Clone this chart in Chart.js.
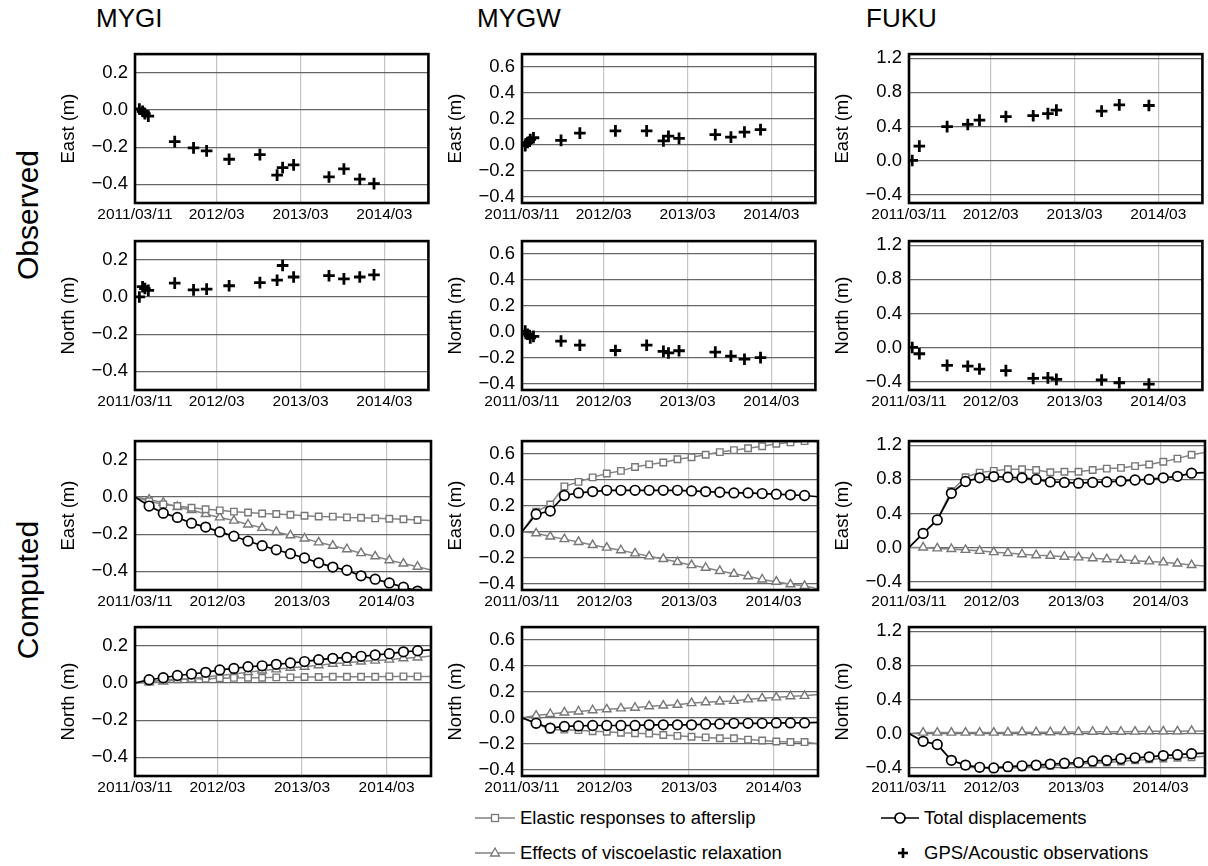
<!DOCTYPE html>
<html lang="en">
<head>
  <meta charset="UTF-8">
  <title>Observed and computed postseismic displacements</title>
  <script src="https://cdn.jsdelivr.net/npm/chart.js"></script>
  <style>
    body {
      margin: 0;
      background: #fff;
      width: 1208px;
      height: 866px;
      overflow: hidden;
      position: relative;
      font-family: "Liberation Sans", Arial, sans-serif;
      color: #000;
    }
    canvas.panel { position: absolute; }
    .station { position: absolute; top: 3px; font-size: 26px; }
    .group {
      position: absolute;
      width: 200px;
      height: 36px;
      line-height: 36px;
      text-align: center;
      font-size: 30px;
      transform: rotate(-90deg);
    }
    .legend-item {
      position: absolute;
      height: 24px;
      display: flex;
      align-items: center;
      font-size: 18.5px;
      white-space: nowrap;
    }
    .legend-item svg { margin-right: 4px; }
  </style>
</head>
<body>
  <div class="station" style="left:96px">MYGI</div>
  <div class="station" style="left:477px">MYGW</div>
  <div class="station" style="left:866px">FUKU</div>

  <div class="group" style="left:-72px; top:197px">Observed</div>
  <div class="group" style="left:-72px; top:572px">Computed</div>

  <!-- legend -->
  <div class="legend-item" style="left:474px; top:806px">
    <svg width="42" height="24"><line x1="1" y1="12" x2="41" y2="12" stroke="#808080" stroke-width="1.5"/><rect x="17.5" y="8.5" width="7" height="7" fill="#fff" stroke="#777" stroke-width="1.3"/></svg>
    Elastic responses to afterslip
  </div>
  <div class="legend-item" style="left:474px; top:841px">
    <svg width="42" height="24"><line x1="1" y1="12" x2="41" y2="12" stroke="#808080" stroke-width="1.5"/><polygon points="21,7 25.5,15 16.5,15" fill="#fff" stroke="#777" stroke-width="1.3"/></svg>
    Effects of viscoelastic relaxation
  </div>
  <div class="legend-item" style="left:880px; top:806px">
    <svg width="40" height="24"><line x1="1" y1="12" x2="39" y2="12" stroke="#000" stroke-width="1.6"/><circle cx="20" cy="12" r="5" fill="#fff" stroke="#000" stroke-width="1.7"/></svg>
    Total displacements
  </div>
  <div class="legend-item" style="left:880px; top:841px">
    <svg width="40" height="24"><line x1="18" y1="12" x2="28" y2="12" stroke="#000" stroke-width="2.6"/><line x1="23" y1="7" x2="23" y2="17" stroke="#000" stroke-width="2.6"/></svg>
    GPS/Acoustic observations
  </div>

  <script>
    // time axis: days since 2011/03/11
    const xMax = 1278;
    const xTickDays = [0, 356, 721, 1086];
    const xTickLabels = ['2011/03/11', '2012/03', '2013/03', '2014/03'];

    // y ranges and ticks per station
    const yRangeMYGI = [-0.5, 0.3];
    const yRangeMYGW = [-0.45, 0.7];
    const yRangeFUKU = [-0.5, 1.25];
    const yTicksMYGI = [-0.4, -0.2, 0.0, 0.2];
    const yTicksMYGW = [-0.4, -0.2, 0.0, 0.2, 0.4, 0.6];
    const yTicksFUKU = [-0.4, 0.0, 0.4, 0.8, 1.2];

    // ---- observations (GPS/Acoustic), in m ----
    const obsDaysMYGI = [19, 33, 43, 58, 173, 255, 312, 410, 544, 619, 643, 691, 845, 910, 979, 1041];
    const obsEastMYGI = [0.005, -0.007, -0.02, -0.033, -0.17, -0.204, -0.22, -0.265, -0.24, -0.35, -0.31, -0.295, -0.36, -0.317, -0.372, -0.396];
    const obsNorthMYGI = [0.0, 0.055, 0.045, 0.035, 0.074, 0.038, 0.042, 0.06, 0.077, 0.09, 0.169, 0.107, 0.114, 0.097, 0.107, 0.119];

    const obsDaysMYGW = [14, 24, 36, 50, 170, 252, 407, 543, 616, 638, 684, 842, 910, 969, 1039];
    const obsEastMYGW = [-0.007, 0.017, 0.041, 0.054, 0.034, 0.09, 0.107, 0.107, 0.03, 0.066, 0.049, 0.078, 0.059, 0.098, 0.117];
    const obsNorthMYGW = [0.005, -0.019, -0.048, -0.036, -0.072, -0.104, -0.145, -0.104, -0.152, -0.164, -0.147, -0.157, -0.188, -0.212, -0.2];

    const obsDaysFUKU = [14, 45, 166, 256, 307, 422, 541, 605, 642, 839, 916, 1045];
    const obsEastFUKU = [0.0, 0.168, 0.398, 0.423, 0.474, 0.515, 0.526, 0.55, 0.591, 0.58, 0.653, 0.646];
    const obsNorthFUKU = [0.0, -0.074, -0.21, -0.22, -0.254, -0.272, -0.364, -0.357, -0.375, -0.382, -0.415, -0.43];

    // ---- computed series, sampled every ~2 months ----
    const compDays = [0, 61, 122, 183, 244, 305, 366, 427, 488, 549, 610, 671, 732, 793, 854, 915, 976, 1037, 1098, 1159, 1220, 1278];

    const totEastMYGI = [0, -0.049, -0.087, -0.11, -0.141, -0.162, -0.188, -0.211, -0.237, -0.262, -0.284, -0.305, -0.328, -0.354, -0.377, -0.394, -0.424, -0.442, -0.462, -0.485, -0.506, -0.53];
    const elaEastMYGI = [0, -0.023, -0.04, -0.049, -0.058, -0.066, -0.072, -0.079, -0.084, -0.089, -0.092, -0.096, -0.101, -0.105, -0.106, -0.11, -0.112, -0.115, -0.117, -0.12, -0.124, -0.127];
    const visEastMYGI = [0, -0.014, -0.031, -0.054, -0.07, -0.092, -0.11, -0.127, -0.148, -0.166, -0.188, -0.206, -0.223, -0.244, -0.262, -0.281, -0.302, -0.319, -0.34, -0.358, -0.375, -0.393];

    const totNorthMYGI = [0, 0.017, 0.028, 0.04, 0.048, 0.057, 0.07, 0.078, 0.087, 0.092, 0.1, 0.107, 0.115, 0.125, 0.132, 0.137, 0.143, 0.15, 0.157, 0.167, 0.173, 0.178];
    const elaNorthMYGI = [0, 0.007, 0.017, 0.02, 0.023, 0.023, 0.025, 0.027, 0.028, 0.028, 0.03, 0.03, 0.032, 0.032, 0.033, 0.033, 0.033, 0.033, 0.035, 0.035, 0.035, 0.035];
    const visNorthMYGI = [0, 0.003, 0.007, 0.017, 0.023, 0.033, 0.04, 0.048, 0.057, 0.067, 0.073, 0.082, 0.087, 0.095, 0.103, 0.108, 0.115, 0.12, 0.125, 0.133, 0.137, 0.145];

    const totEastMYGW = [0, 0.135, 0.16, 0.28, 0.30, 0.31, 0.32, 0.32, 0.32, 0.32, 0.32, 0.32, 0.315, 0.31, 0.305, 0.30, 0.30, 0.295, 0.29, 0.285, 0.28, 0.27];
    const elaEastMYGW = [0, 0.155, 0.21, 0.35, 0.385, 0.42, 0.45, 0.47, 0.50, 0.52, 0.535, 0.56, 0.575, 0.595, 0.615, 0.63, 0.645, 0.66, 0.68, 0.69, 0.70, 0.72];
    const visEastMYGW = [0, -0.012, -0.037, -0.057, -0.079, -0.103, -0.123, -0.143, -0.167, -0.19, -0.21, -0.234, -0.258, -0.278, -0.303, -0.325, -0.344, -0.369, -0.386, -0.406, -0.418, -0.443];

    const totNorthMYGW = [0, -0.043, -0.08, -0.067, -0.063, -0.06, -0.06, -0.06, -0.06, -0.055, -0.055, -0.055, -0.055, -0.05, -0.048, -0.043, -0.043, -0.043, -0.04, -0.04, -0.04, -0.036];
    const elaNorthMYGW = [0, -0.043, -0.092, -0.092, -0.096, -0.104, -0.108, -0.116, -0.12, -0.123, -0.133, -0.14, -0.147, -0.152, -0.159, -0.159, -0.169, -0.176, -0.183, -0.188, -0.188, -0.2];
    const visNorthMYGW = [0, 0.017, 0.029, 0.041, 0.048, 0.058, 0.065, 0.072, 0.077, 0.089, 0.094, 0.10, 0.113, 0.12, 0.125, 0.13, 0.142, 0.15, 0.157, 0.166, 0.169, 0.18];

    const totEastFUKU = [0, 0.164, 0.324, 0.636, 0.775, 0.818, 0.833, 0.825, 0.818, 0.80, 0.77, 0.764, 0.756, 0.764, 0.77, 0.78, 0.793, 0.80, 0.818, 0.836, 0.873, 0.88];
    const elaEastFUKU = [0, 0.17, 0.327, 0.665, 0.825, 0.88, 0.90, 0.92, 0.92, 0.91, 0.884, 0.89, 0.89, 0.91, 0.927, 0.935, 0.956, 0.975, 1.007, 1.044, 1.09, 1.116];
    const visEastFUKU = [0, 0.0, -0.011, -0.018, -0.029, -0.04, -0.055, -0.065, -0.08, -0.091, -0.098, -0.109, -0.116, -0.127, -0.138, -0.145, -0.156, -0.164, -0.175, -0.189, -0.207, -0.218];

    const totNorthFUKU = [0, -0.093, -0.13, -0.316, -0.372, -0.398, -0.405, -0.39, -0.38, -0.372, -0.36, -0.35, -0.342, -0.323, -0.316, -0.297, -0.286, -0.275, -0.26, -0.249, -0.238, -0.23];
    const elaNorthFUKU = [0, -0.093, -0.13, -0.316, -0.38, -0.405, -0.41, -0.405, -0.398, -0.39, -0.38, -0.372, -0.36, -0.35, -0.342, -0.33, -0.316, -0.305, -0.294, -0.286, -0.279, -0.268];
    const visNorthFUKU = [0, 0.01, 0.01, 0.01, 0.01, 0.01, 0.01, 0.012, 0.015, 0.015, 0.015, 0.018, 0.018, 0.02, 0.02, 0.02, 0.022, 0.025, 0.025, 0.025, 0.03, 0.03];

    // ---- layout ----
    const colLeft = [135, 522, 909];
    const rowTop = [44, 231, 431, 617];
    const PLOT_W = 296, PLOT_H = 159;
    const AXIS_W = 80, XAXIS_H = 24, PAD_T = 8, PAD_R = 6;

    Chart.defaults.font.family = '"Liberation Sans", Arial, sans-serif';
    Chart.defaults.color = '#000';

    const framePlugin = {
      id: 'frame',
      afterDraw(chart) {
        const { ctx, chartArea: a } = chart;
        ctx.save();
        ctx.strokeStyle = '#000';
        ctx.lineWidth = 2.6;
        ctx.strokeRect(a.left, a.top, a.right - a.left, a.bottom - a.top);
        ctx.restore();
      }
    };

    const pts = (xs, ys) => xs.map((x, i) => ({ x: x, y: ys[i] }));
    // no marker on the first (origin) and last (end of line) samples
    const markerRadius = r => ctx => (ctx.dataIndex === 0 || ctx.dataIndex === compDays.length - 1) ? 0 : r;

    function obsSet(days, vals) {
      return [{
        data: pts(days, vals),
        showLine: false,
        pointStyle: 'cross',
        pointRadius: 5.8,
        pointBorderWidth: 2.8,
        pointBorderColor: '#000'
      }];
    }

    function compSets(total, elastic, visco) {
      return [
        {
          data: pts(compDays, total),
          borderColor: '#000', borderWidth: 1.7,
          pointStyle: 'circle', pointRadius: markerRadius(4.8),
          pointBackgroundColor: '#fff', pointBorderColor: '#000', pointBorderWidth: 1.7
        },
        {
          data: pts(compDays, elastic),
          borderColor: '#858585', borderWidth: 1.5,
          pointStyle: 'rect', pointRadius: markerRadius(4.6),
          pointBackgroundColor: '#fff', pointBorderColor: '#777', pointBorderWidth: 1.4
        },
        {
          data: pts(compDays, visco),
          borderColor: '#858585', borderWidth: 1.5,
          pointStyle: 'triangle', pointRadius: markerRadius(5),
          pointBackgroundColor: '#fff', pointBorderColor: '#777', pointBorderWidth: 1.4
        }
      ];
    }

    function makePanel(col, row, yLabel, yRange, yTicks, datasets) {
      const c = document.createElement('canvas');
      c.className = 'panel';
      c.width = AXIS_W + PLOT_W + PAD_R;
      c.height = PAD_T + PLOT_H + XAXIS_H;
      c.style.left = (colLeft[col] - AXIS_W) + 'px';
      c.style.top = (rowTop[row] - PAD_T) + 'px';
      document.body.appendChild(c);

      new Chart(c, {
        type: 'line',
        data: { datasets: datasets },
        options: {
          responsive: false,
          animation: false,
          devicePixelRatio: 1,
          layout: { padding: { top: PAD_T, right: PAD_R, left: 0, bottom: 0 } },
          plugins: { legend: { display: false }, tooltip: { enabled: false } },
          elements: { line: { tension: 0 } },
          scales: {
            x: {
              type: 'linear',
              min: 0,
              max: xMax,
              afterBuildTicks: s => { s.ticks = xTickDays.map(v => ({ value: v })); },
              afterFit: s => { s.height = XAXIS_H; },
              ticks: {
                callback: v => xTickLabels[xTickDays.indexOf(v)],
                font: { size: 15.5 },
                padding: 2,
                maxRotation: 0,
                autoSkip: false
              },
              grid: {
                color: ctx => (ctx.tick && ctx.tick.value === 0) ? 'rgba(0,0,0,0)' : '#c4c4c4',
                lineWidth: 1.2,
                drawTicks: false
              },
              border: { display: false }
            },
            y: {
              min: yRange[0],
              max: yRange[1],
              afterBuildTicks: s => { s.ticks = yTicks.map(v => ({ value: v })); },
              afterFit: s => { s.width = AXIS_W; },
              ticks: {
                callback: v => v.toFixed(1).replace('-', '\u2212'),
                font: { size: 18.5 },
                padding: 7
              },
              grid: { color: '#666', lineWidth: 1.2, drawTicks: false },
              border: { display: false },
              title: {
                display: true,
                text: yLabel,
                font: { size: 18.5 },
                padding: { top: 3, bottom: 0 }
              }
            }
          }
        },
        plugins: [framePlugin]
      });
    }

    // Observed
    makePanel(0, 0, 'East (m)', yRangeMYGI, yTicksMYGI, obsSet(obsDaysMYGI, obsEastMYGI));
    makePanel(1, 0, 'East (m)', yRangeMYGW, yTicksMYGW, obsSet(obsDaysMYGW, obsEastMYGW));
    makePanel(2, 0, 'East (m)', yRangeFUKU, yTicksFUKU, obsSet(obsDaysFUKU, obsEastFUKU));
    makePanel(0, 1, 'North (m)', yRangeMYGI, yTicksMYGI, obsSet(obsDaysMYGI, obsNorthMYGI));
    makePanel(1, 1, 'North (m)', yRangeMYGW, yTicksMYGW, obsSet(obsDaysMYGW, obsNorthMYGW));
    makePanel(2, 1, 'North (m)', yRangeFUKU, yTicksFUKU, obsSet(obsDaysFUKU, obsNorthFUKU));

    // Computed
    makePanel(0, 2, 'East (m)', yRangeMYGI, yTicksMYGI, compSets(totEastMYGI, elaEastMYGI, visEastMYGI));
    makePanel(1, 2, 'East (m)', yRangeMYGW, yTicksMYGW, compSets(totEastMYGW, elaEastMYGW, visEastMYGW));
    makePanel(2, 2, 'East (m)', yRangeFUKU, yTicksFUKU, compSets(totEastFUKU, elaEastFUKU, visEastFUKU));
    makePanel(0, 3, 'North (m)', yRangeMYGI, yTicksMYGI, compSets(totNorthMYGI, elaNorthMYGI, visNorthMYGI));
    makePanel(1, 3, 'North (m)', yRangeMYGW, yTicksMYGW, compSets(totNorthMYGW, elaNorthMYGW, visNorthMYGW));
    makePanel(2, 3, 'North (m)', yRangeFUKU, yTicksFUKU, compSets(totNorthFUKU, elaNorthFUKU, visNorthFUKU));
  </script>
</body>
</html>
